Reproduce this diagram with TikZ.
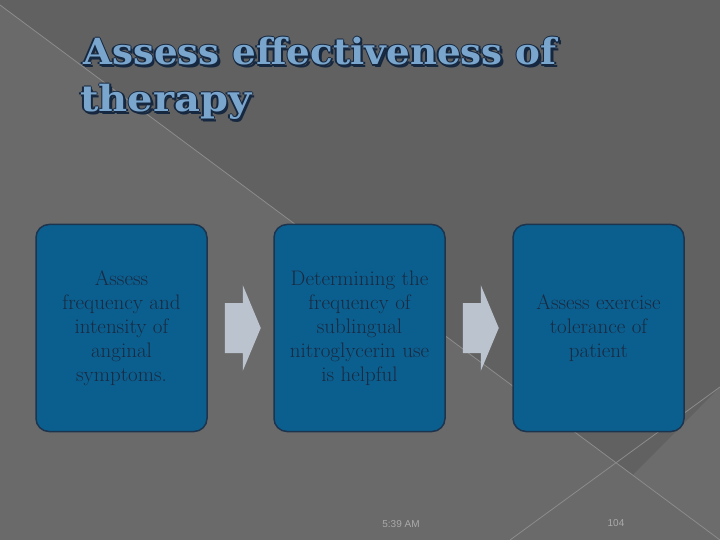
\documentclass[tikz,border=0pt]{standalone}
\usepackage{fontspec}
\usepackage{graphicx}
\usetikzlibrary{calc}
\newfontfamily\titlefont{DejaVu Serif}
\newfontfamily\footfont{Liberation Sans}
\definecolor{bgbase}{RGB}{106,106,106}
\definecolor{bgdark}{RGB}{97,97,97}
\definecolor{bglight}{RGB}{108,108,108}
\definecolor{bgline}{RGB}{140,140,140}
\definecolor{boxfill}{RGB}{11,95,143}
\definecolor{boxline}{RGB}{28,52,78}
\definecolor{boxtext}{RGB}{26,42,66}
\definecolor{arrowfill}{RGB}{186,195,206}
\definecolor{titlefill}{RGB}{122,166,206}
\definecolor{titleline}{RGB}{22,40,64}
\definecolor{foottext}{RGB}{170,170,170}
\tikzset{
  stepbox/.style={draw=boxline, line width=1.5pt, fill=boxfill, rounded corners=13pt,
    minimum width=171pt, minimum height=207pt, inner sep=0pt,
    text=boxtext, align=center, font=\fontsize{21}{24}\selectfont},
  blockarrow/.style={fill=arrowfill, draw=none},
  foot/.style={text=foottext, font=\footfont\fontsize{10}{11}\selectfont, inner sep=0pt},
  ttl/.style={anchor=base west, inner sep=0pt, font=\titlefont\bfseries\fontsize{36}{40}\selectfont}
}
\newcommand{\ttlA}{\scalebox{1.035}[1]{Assess effectiveness of}}
\newcommand{\ttlB}{\scalebox{1.11}[1]{therapy}}
\begin{document}
\begin{tikzpicture}[x=1pt,y=-1pt]
\useasboundingbox (0,0) rectangle (720,540);
% background
\fill[bgbase] (0,0) rectangle (720,540);
\fill[bgdark] (0,0) -- (720,0) -- (720,540) -- (0,5) -- cycle;
\fill[bglight] (633,475) -- (720,387) -- (720,540) -- cycle;
\draw[bgline, line width=0.8pt] (0,5) -- (720,540);
\draw[bgline, line width=0.8pt] (510,540) -- (720,387);
% title (dark outline and shadow, then light fill)
\foreach \dx/\dy in {2.4/2.4, 1.5/0, -1.5/0, 0/1.5, 0/-1.5}{
  \node[ttl, text=titleline] at (83+\dx,65+\dy) {\ttlA};
  \node[ttl, text=titleline] at (80+\dx,112+\dy) {\ttlB};
}
\node[ttl, text=titlefill] (t1) at (83,65) {\ttlA};
\node[ttl, text=titlefill] (t2) at (80,112) {\ttlB};
% boxes
\node[stepbox] (b1) at (121.5,328) {Assess\\frequency and\\intensity of\\anginal\\symptoms.};
\node[stepbox] (b2) at (359.5,328) {Determining the\\frequency of\\sublingual\\nitroglycerin use\\is helpful};
\node[stepbox] (b3) at (598.5,328) {Assess exercise\\tolerance of\\patient};
% block arrows
\fill[blockarrow] ($(b1.east)+(17,-25)$) -- ++(18,0) -- ++(0,-18) -- ($(b1.east)+(53,0)$) -- ($(b1.east)+(35,43)$) -- ++(0,-18) -- ++(-18,0) -- cycle;
\fill[blockarrow] ($(b2.east)+(17,-25)$) -- ++(18,0) -- ++(0,-18) -- ($(b2.east)+(53,0)$) -- ($(b2.east)+(35,43)$) -- ++(0,-18) -- ++(-18,0) -- cycle;
% footer
\node[foot] (time) at (401,524) {5:39 AM};
\node[foot] (page) at (616,523) {104};
\end{tikzpicture}
\end{document}
